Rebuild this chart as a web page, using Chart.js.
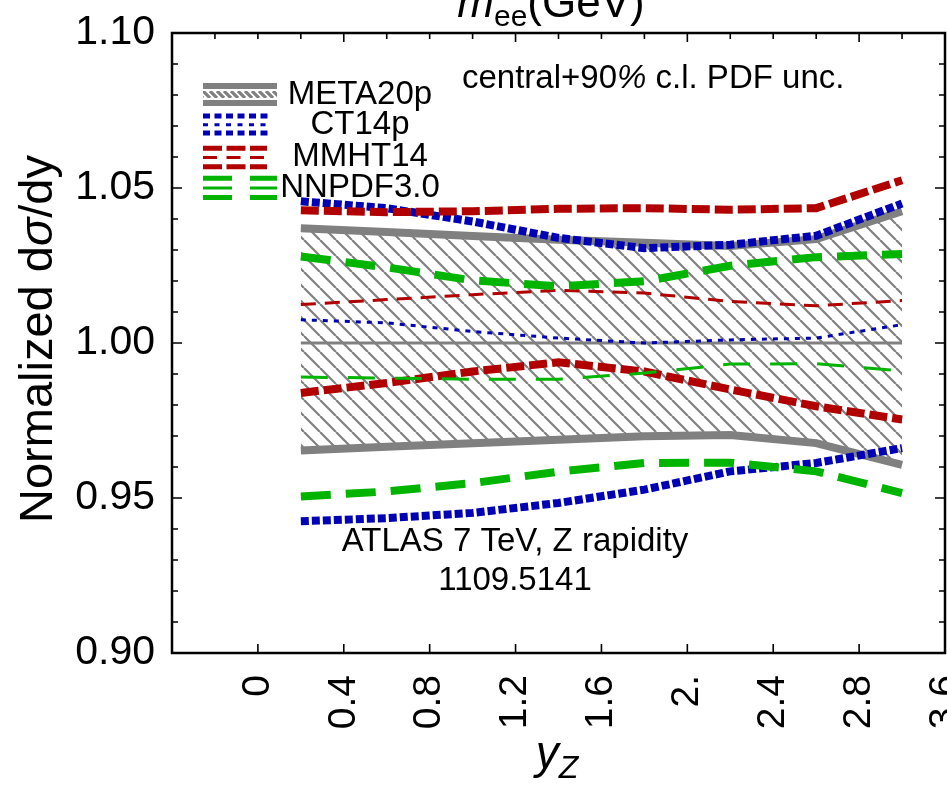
<!DOCTYPE html>
<html>
<head>
<meta charset="utf-8">
<script src="https://cdn.jsdelivr.net/npm/chart.js@4.4.0/dist/chart.umd.min.js"></script>
<style>
  html, body { margin: 0; padding: 0; background: #fff; }
  #wrap { width: 947px; height: 785px; }
</style>
</head>
<body>
<div id="wrap"><canvas id="c" width="947" height="785"></canvas></div>
<script>
const FONT = "'Liberation Sans', Arial, Helvetica, sans-serif";

// Z boson rapidity bin centres
const rapidity = [0.2, 0.6, 1.0, 1.4, 1.8, 2.2, 2.6, 3.0];

// META20p: upper edge, central, lower edge of the 90% c.l. band
const meta20pHi      = [1.0370, 1.0358, 1.0345, 1.0333, 1.0323, 1.0313, 1.0335, 1.0425];
const meta20pCentral = [1.0000, 1.0000, 1.0000, 1.0000, 1.0000, 1.0000, 1.0000, 1.0000];
const meta20pLo      = [0.9653, 0.9665, 0.9677, 0.9688, 0.9699, 0.9703, 0.9677, 0.9607];

// CT14p
const ct14pHi      = [1.0457, 1.0435, 1.0392, 1.0339, 1.0306, 1.0317, 1.0346, 1.0450];
const ct14pCentral = [1.0075, 1.0065, 1.0037, 1.0016, 1.0000, 1.0010, 1.0016, 1.0059];
const ct14pLo      = [0.9425, 0.9435, 0.9452, 0.9484, 0.9527, 0.9586, 0.9613, 0.9661];

// MMHT14
const mmht14Hi      = [1.0428, 1.0422, 1.0425, 1.0433, 1.0435, 1.0430, 1.0435, 1.0525];
const mmht14Central = [1.0124, 1.0140, 1.0156, 1.0170, 1.0161, 1.0134, 1.0120, 1.0137];
const mmht14Lo      = [0.9839, 0.9871, 0.9908, 0.9938, 0.9908, 0.9850, 0.9796, 0.9753];

// NNPDF3.0
const nnpdf30Hi      = [1.0279, 1.0244, 1.0202, 1.0183, 1.0199, 1.0249, 1.0277, 1.0287];
const nnpdf30Central = [0.9890, 0.9887, 0.9883, 0.9883, 0.9903, 0.9932, 0.9933, 0.9910];
const nnpdf30Lo      = [0.9505, 0.9521, 0.9548, 0.9585, 0.9613, 0.9614, 0.9586, 0.9516];

// axis ticks
const xTickValues = [0, 0.4, 0.8, 1.2, 1.6, 2.0, 2.4, 2.8, 3.2];
const xTickLabels = ['0', '0.4', '0.8', '1.2', '1.6', '2.', '2.4', '2.8', '3.6'];
const yTickValues = [0.90, 0.95, 1.00, 1.05, 1.10];
const yTickLabels = ['0.90', '0.95', '1.00', '1.05', '1.10'];

const GREY = '#808080';
const BLUE = '#0000b4';
const RED = '#b00000';
const GREEN = '#00b400';

// diagonal hatch used for the META20p band
function makeHatch(step, width, color, bg) {
  const c = document.createElement('canvas');
  c.width = step; c.height = step;
  const g = c.getContext('2d');
  if (bg) { g.fillStyle = bg; g.fillRect(0, 0, step, step); }
  g.strokeStyle = color; g.lineWidth = width;
  g.beginPath();
  for (const k of [-step, 0, step]) { g.moveTo(k, 0); g.lineTo(k + step, step); }
  g.stroke();
  return g.createPattern(c, 'repeat');
}
const bandHatch = makeHatch(16, 2.2, GREY);
const legendHatch = makeHatch(7, 3.2, GREY, '#ffffff');

function pts(ys) { return ys.map((v, i) => ({ x: rapidity[i], y: v })); }
function line(label, ys, color, width, dash, order, extra) {
  return Object.assign({
    label, data: pts(ys), borderColor: color, borderWidth: width,
    borderDash: dash, fill: false, pointRadius: 0, tension: 0, order,
    borderCapStyle: 'butt', borderJoinStyle: 'miter'
  }, extra || {});
}

const datasets = [
  line('META20p upper', meta20pHi, GREY, 8, [], 5),
  line('META20p', meta20pCentral, GREY, 3, [], 4),
  line('META20p lower', meta20pLo, GREY, 8, [], 5, { fill: 0, backgroundColor: bandHatch }),
  line('CT14p upper', ct14pHi, BLUE, 8, [8, 3], 3),
  line('CT14p', ct14pCentral, BLUE, 3, [5, 6], 3),
  line('CT14p lower', ct14pLo, BLUE, 8, [8, 3], 3),
  line('MMHT14 upper', mmht14Hi, RED, 8, [18, 5], 2),
  line('MMHT14', mmht14Central, RED, 3, [15, 9], 2),
  line('MMHT14 lower', mmht14Lo, RED, 8, [18, 5], 2),
  line('NNPDF3.0 upper', nnpdf30Hi, GREEN, 8, [30, 15], 1),
  line('NNPDF3.0', nnpdf30Central, GREEN, 3, [27, 20], 1),
  line('NNPDF3.0 lower', nnpdf30Lo, GREEN, 8, [30, 15], 1)
];

function drawRuns(ctx, runs, x, baseline) {
  let cx = x;
  for (const r of runs) {
    ctx.font = r.font;
    ctx.fillText(r.text, cx, baseline + (r.dy || 0));
    cx += ctx.measureText(r.text).width;
  }
}
function runsWidth(ctx, runs) {
  let w = 0;
  for (const r of runs) { ctx.font = r.font; w += ctx.measureText(r.text).width; }
  return w;
}

const framePlugin = {
  id: 'frameAndText',
  beforeDraw(chart) {
    const ctx = chart.ctx;
    ctx.save();
    ctx.fillStyle = '#fff';
    ctx.fillRect(0, 0, chart.width, chart.height);
    ctx.restore();
  },
  afterDraw(chart) {
    const { ctx, chartArea: a, scales: { x, y } } = chart;
    ctx.save();
    ctx.strokeStyle = '#000';
    ctx.fillStyle = '#000';

    // inward tick marks
    ctx.lineWidth = 1.6;
    ctx.beginPath();
    for (let i = 0; i <= 20; i++) {
      const py = y.getPixelForValue(0.90 + i * 0.01);
      const len = (i % 5 === 0) ? 10 : 6;
      ctx.moveTo(a.left, py); ctx.lineTo(a.left + len, py);
      ctx.moveTo(a.right, py); ctx.lineTo(a.right - len, py);
    }
    for (const v of xTickValues) {
      const px = x.getPixelForValue(v);
      ctx.moveTo(px, a.bottom); ctx.lineTo(px, a.bottom - 9);
    }
    for (let i = -1; i <= 15; i++) {
      const px = x.getPixelForValue(i * 0.2);
      const len = (((i % 4) + 4) % 4 === 2) ? 9 : 6;
      ctx.moveTo(px, a.top); ctx.lineTo(px, a.top + len);
    }
    ctx.stroke();

    // frame
    ctx.lineWidth = 2.5;
    ctx.strokeRect(a.left, a.top, a.right - a.left, a.bottom - a.top);

    // frame title along the top edge
    const title = [
      { text: 'm', font: `italic 44px ${FONT}` },
      { text: 'ee', font: `30px ${FONT}`, dy: 9 },
      { text: '(GeV)', font: `44px ${FONT}` }
    ];
    ctx.textAlign = 'left';
    ctx.textBaseline = 'alphabetic';
    const tw = runsWidth(ctx, title);
    drawRuns(ctx, title, 551 - tw / 2, 17);

    // y axis title
    const yTitle = [
      { text: 'Normalized d', font: `47px ${FONT}` },
      { text: 'σ', font: `italic 47px ${FONT}` },
      { text: '/dy', font: `47px ${FONT}` }
    ];
    ctx.save();
    ctx.translate(52, (a.top + a.bottom) / 2 - 4);
    ctx.rotate(-Math.PI / 2);
    const yw = runsWidth(ctx, yTitle);
    drawRuns(ctx, yTitle, -yw / 2, 0);
    ctx.restore();

    // x axis title
    const xTitle = [
      { text: 'y', font: `italic 46px ${FONT}` },
      { text: 'Z', font: `italic 32px ${FONT}`, dy: 10 }
    ];
    const xw = runsWidth(ctx, xTitle);
    drawRuns(ctx, xTitle, 557 - xw / 2, 768);

    // annotations
    drawRuns(ctx, [
      { text: 'central+90', font: `33px ${FONT}` },
      { text: '%', font: `italic 33px ${FONT}` },
      { text: ' c.l. PDF unc.', font: `33px ${FONT}` }
    ], 462, 88);
    ctx.font = `33px ${FONT}`;
    ctx.textAlign = 'center';
    ctx.fillText('ATLAS 7 TeV, Z rapidity', 515, 551);
    ctx.fillText('1109.5141', 515, 590);

    // legend
    const lx0 = 203, lx1 = 277;
    ctx.fillStyle = GREY;
    ctx.fillRect(lx0, 83, lx1 - lx0, 6);
    ctx.fillRect(lx0, 100, lx1 - lx0, 6);
    ctx.fillStyle = legendHatch;
    ctx.fillRect(lx0, 91, lx1 - lx0, 7);

    function legendRow(color, yy, width, dash, xEnd) {
      ctx.strokeStyle = color;
      ctx.lineWidth = width;
      ctx.setLineDash(dash);
      ctx.beginPath();
      ctx.moveTo(lx0, yy); ctx.lineTo(xEnd, yy);
      ctx.stroke();
    }
    legendRow(BLUE, 116, 5, [7, 4.5], 270);
    legendRow(BLUE, 124.7, 3, [5, 6.5], 270);
    legendRow(BLUE, 133, 5, [7, 4.5], 270);
    legendRow(RED, 148.3, 5, [19, 4.5], 267);
    legendRow(RED, 157.5, 3, [14, 9.5], 267);
    legendRow(RED, 166.7, 5, [19, 4.5], 267);
    legendRow(GREEN, 178.3, 5, [29, 18], 277);
    legendRow(GREEN, 188, 3, [29, 18], 277);
    legendRow(GREEN, 197.5, 5, [29, 18], 277);
    ctx.setLineDash([]);

    ctx.fillStyle = '#000';
    ctx.font = `33px ${FONT}`;
    ctx.textAlign = 'center';
    ctx.textBaseline = 'middle';
    ctx.fillText('META20p', 360, 95);
    ctx.fillText('CT14p', 360, 125);
    ctx.fillText('MMHT14', 360, 157);
    ctx.fillText('NNPDF3.0', 360, 188);
    ctx.restore();
  }
};

new Chart(document.getElementById('c'), {
  type: 'line',
  data: { datasets },
  options: {
    responsive: false,
    animation: false,
    devicePixelRatio: 1,
    layout: { padding: { top: 33, right: 2, left: 0, bottom: 0 } },
    plugins: {
      legend: { display: false },
      tooltip: { enabled: false },
      title: { display: false },
      filler: { propagate: false }
    },
    scales: {
      x: {
        type: 'linear', min: -0.4, max: 3.2,
        grid: { display: false }, border: { display: false },
        afterBuildTicks: s => { s.ticks = xTickValues.map(v => ({ value: v })); },
        afterFit: s => { s.height = 132; s.paddingLeft = 0; s.paddingRight = 0; },
        ticks: {
          autoSkip: false, minRotation: 90, maxRotation: 90, padding: 14,
          color: '#000', font: { family: FONT, size: 39 },
          callback: (v, i) => xTickLabels[i]
        }
      },
      y: {
        type: 'linear', min: 0.90, max: 1.10,
        grid: { display: false }, border: { display: false },
        afterBuildTicks: s => { s.ticks = yTickValues.map(v => ({ value: v })); },
        afterFit: s => { s.width = 172; s.paddingTop = 0; s.paddingBottom = 0; },
        ticks: {
          padding: 9, color: '#000', font: { family: FONT, size: 41 },
          callback: (v, i) => yTickLabels[i]
        }
      }
    }
  },
  plugins: [framePlugin]
});
</script>
</body>
</html>
